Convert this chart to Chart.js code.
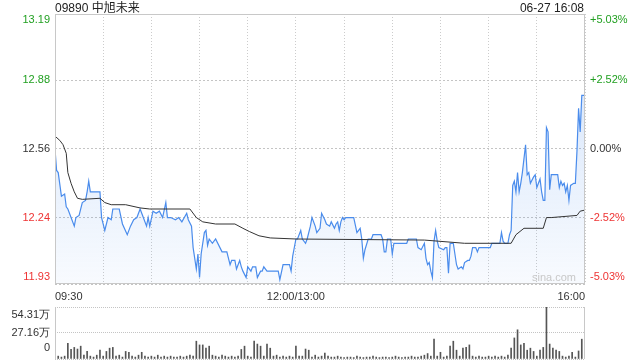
<!DOCTYPE html>
<html>
<head>
<meta charset="utf-8">
<script src="https://cdn.jsdelivr.net/npm/chart.js@4.4.1/dist/chart.umd.min.js"></script>
<style>
html, body { margin: 0; padding: 0; background: #fff; overflow: hidden; width: 640px; height: 360px; }
#wrap { position: relative; width: 640px; height: 360px; font-family: "Liberation Sans", "Noto Sans CJK SC", Arial, sans-serif; }
#title { position: absolute; left: 55px; top: 2px; font-size: 12px; line-height: 12px; color: #222; }
#stamp { position: absolute; right: 56px; top: 2px; font-size: 12px; line-height: 12px; color: #222; }
#mark { position: absolute; left: 532px; top: 272px; font-size: 11px; line-height: 11px; color: #c8c8c8; }
#main { position: absolute; left: 0; top: 0; }
#vol { position: absolute; left: 0; top: 300px; }
</style>
</head>
<body>
<div id="wrap">
  <canvas id="main" width="640" height="305"></canvas>
  <canvas id="vol" width="640" height="60"></canvas>
  <div id="title">09890 中旭未来</div>
  <div id="stamp">06-27 16:08</div>
  <div id="mark">sina.com</div>
</div>
<script>
// minutes since 09:30, lunch break removed (0..330)
const priceMinutes = [0,1,2,4,6,7,8,10,12,13,15,17,19,20,21,22,28,29,31,33,35,36,40,42,45,47,49,51,53,55,57,58,59,61,63,65,67,69,70,72,75,77,79,82,83,85,86,88,89,90,91,93,94,95,96,98,100,104,107,109,110,112,113,115,116,117,119,120,122,123,125,126,128,129,130,132,134,139,140,142,146,147,148,150,151,153,154,156,157,159,160,162,163,165,166,168,169,171,172,174,175,176,177,178,179,180,181,186,188,190,191,192,193,195,197,198,203,204,205,206,207,209,210,211,219,220,225,226,228,230,231,232,233,234,235,236,237,238,239,242,243,244,245,246,248,250,251,253,254,255,257,258,259,260,262,263,264,271,272,277,278,279,280,282,283,284,285,286,287,288,289,290,291,293,294,295,296,298,299,300,302,303,304,305,306,307,308,309,313,314,315,316,317,318,319,320,321,323,324,325,326,327,328,330];
const prices = [12.56,12.46,12.45,12.34,12.35,12.29,12.28,12.24,12.20,12.24,12.25,12.31,12.32,12.36,12.41,12.36,12.36,12.24,12.18,12.24,12.23,12.28,12.28,12.21,12.16,12.20,12.23,12.24,12.28,12.24,12.20,12.24,12.20,12.27,12.26,12.27,12.24,12.31,12.24,12.24,12.23,12.24,12.22,12.26,12.23,12.20,12.10,12.00,12.07,11.96,12.07,12.17,12.18,12.11,12.14,12.12,12.14,12.08,12.08,12.02,12.04,12.04,12.00,12.04,12.01,11.99,11.96,12.01,11.99,12.01,12.01,11.96,11.99,11.99,12.01,11.99,11.99,11.99,11.95,12.02,12.02,11.99,12.06,12.14,12.14,12.18,12.14,12.12,12.14,12.20,12.24,12.20,12.17,12.19,12.26,12.23,12.21,12.20,12.22,12.19,12.21,12.22,12.18,12.22,12.24,12.23,12.24,12.24,12.17,12.19,12.14,12.05,12.09,12.14,12.14,12.16,12.16,12.14,12.08,12.08,12.14,12.14,12.07,12.12,12.12,12.14,12.14,12.10,12.09,12.12,12.05,12.02,12.03,11.99,11.96,12.13,12.18,12.13,12.10,12.09,12.10,12.10,11.98,12.12,12.12,12.02,12.00,12.01,12.00,12.03,12.04,12.04,12.06,12.10,12.10,12.08,12.10,12.10,12.12,12.12,12.17,12.13,12.12,12.12,12.16,12.18,12.39,12.41,12.36,12.45,12.36,12.40,12.45,12.58,12.44,12.45,12.40,12.43,12.44,12.38,12.42,12.36,12.32,12.32,12.66,12.64,12.37,12.44,12.44,12.38,12.41,12.39,12.40,12.36,12.39,12.32,12.39,12.40,12.40,12.55,12.75,12.64,12.81,12.81];

const avgMinutes = [0,3,5,7,8,10,12,14,17,28,31,35,44,53,59,84,88,92,100,112,117,121,127,134,150,230,255,284,287,292,304,306,309,325,327,330];
const avgPrices = [12.62,12.60,12.58,12.54,12.45,12.40,12.36,12.33,12.325,12.33,12.31,12.30,12.30,12.285,12.28,12.28,12.24,12.22,12.21,12.21,12.19,12.175,12.155,12.145,12.14,12.135,12.12,12.12,12.16,12.19,12.19,12.24,12.24,12.25,12.27,12.275];

// volume in 万 shares, one bar per 2 minutes
const volumes = [
  13.4, 3, 2, 3, 16.4, 10, 12.1, 10.4, 13.4, 4,
  7.9, 3, 2, 4, 9.2, 3, 7.9, 11.3, 12.1, 3,
  4, 2, 7.9, 7, 3, 2, 4, 7, 3, 2,
  3, 2, 4, 2, 3, 2, 3, 2, 2, 3,
  2, 3, 4, 3, 18.6, 14.7, 14.7, 11.3, 13.4, 4,
  3, 2, 4, 3, 2, 3, 2, 3, 10, 13.4,
  3, 2, 18.6, 15.6, 13.4, 3, 15.6, 11.3, 3, 4,
  2, 3, 2, 3, 2, 13.4, 3, 3, 10.4, 9.2,
  2, 4, 2, 3, 6.2, 3, 2, 2, 3, 2,
  1.5, 2, 2, 1.5, 3, 2, 1.5, 2, 2, 3,
  2, 1.5, 2, 2, 1.5, 2, 3, 2, 1.5, 2,
  2, 3, 2, 2, 3, 4, 5.7, 3, 20.7, 3,
  7, 2, 3, 13.4, 18.6, 9.2, 3, 11.3, 12.1, 14.7,
  3, 2, 3, 2, 2, 3, 2, 3, 2, 3,
  2, 4, 11.3, 22, 30.5, 14.7, 16.4, 9.2, 11.3, 7.9,
  3, 9.2, 12.1, 54.31, 15.6, 11.3, 9.2, 7.9, 3, 2,
  3, 7, 2, 8.4, 20.7, 22
];

const priceTicks = [13.19, 12.88, 12.56, 12.24, 11.93];
const priceTickLabels = ['13.19', '12.88', '12.56', '12.24', '11.93'];
const pctTickLabels = ['+5.03%', '+2.52%', '0.00%', '-2.52%', '-5.03%'];
const volTicks = [54.31, 27.16, 0];
const volTickLabels = ['54.31万', '27.16万', '0'];
const timeTickMinutes = [0, 150, 330];
const timeTickLabels = ['09:30', '12:00/13:00', '16:00'];

const GREEN = '#22a022', RED = '#ee3333', DARK = '#333';
const tickColors = [GREEN, GREEN, DARK, RED, RED];
const FONT = '"Liberation Sans", Arial, sans-serif';

Chart.defaults.font.family = FONT;
Chart.defaults.font.size = 11;

// side labels, kept inside the plot box at the top and bottom edges
const sideLabels = {
  id: 'sideLabels',
  afterDraw(chart, args, opts) {
    const ctx = chart.ctx, a = chart.chartArea;
    ctx.save();
    ctx.font = '11px ' + FONT;
    ctx.textBaseline = 'middle';
    opts.sets.forEach(s => {
      const scale = chart.scales[s.axis];
      s.values.forEach((v, i) => {
        let y = scale.getPixelForValue(v);
        y = Math.min(Math.max(y, a.top + s.inset[0]), a.bottom - s.inset[1]);
        ctx.fillStyle = s.colors[i];
        ctx.textAlign = s.align;
        ctx.fillText(s.labels[i], s.x, y);
      });
    });
    ctx.restore();
  }
};

const frame = {
  id: 'frame',
  afterDatasetsDraw(chart, args, opts) {
    const ctx = chart.ctx, a = chart.chartArea;
    ctx.save();
    ctx.strokeStyle = '#c8c8c8';
    ctx.lineWidth = 1;
    ctx.beginPath();
    opts.sides.forEach(side => {
      if (side === 'left') { ctx.moveTo(a.left + 0.5, a.top); ctx.lineTo(a.left + 0.5, a.bottom); }
      if (side === 'right') { ctx.moveTo(a.right - 0.5, a.top); ctx.lineTo(a.right - 0.5, a.bottom); }
      if (side === 'top') { ctx.moveTo(a.left, a.top + 0.5); ctx.lineTo(a.right, a.top + 0.5); }
      if (side === 'bottom') { ctx.moveTo(a.left, a.bottom - 0.5); ctx.lineTo(a.right, a.bottom - 0.5); }
    });
    ctx.stroke();
    ctx.restore();
  }
};

const fixWidth = w => scale => { scale.width = w; };

new Chart(document.getElementById('main'), {
  type: 'line',
  data: {
    datasets: [{
      label: 'avg',
      data: avgMinutes.map((m, i) => ({ x: m, y: avgPrices[i] })),
      borderColor: '#333',
      borderWidth: 1,
      pointRadius: 0,
      fill: false
    }, {
      label: 'price',
      data: priceMinutes.map((m, i) => ({ x: m, y: prices[i] })),
      borderColor: '#4a8cec',
      borderWidth: 1.2,
      pointRadius: 0,
      fill: 'start',
      backgroundColor(c) {
        const a = c.chart.chartArea;
        if (!a) return 'rgba(74,140,236,0.1)';
        const g = c.chart.ctx.createLinearGradient(0, a.top, 0, a.bottom);
        g.addColorStop(0, 'rgba(74,140,236,0.26)');
        g.addColorStop(1, 'rgba(74,140,236,0.04)');
        return g;
      }
    }]
  },
  options: {
    responsive: false,
    animation: false,
    devicePixelRatio: 1,
    layout: { padding: { top: 14, left: 0, right: 0, bottom: 0 } },
    plugins: {
      legend: { display: false },
      tooltip: { enabled: false },
      frame: { sides: ['left', 'right', 'top', 'bottom'] },
      sideLabels: {
        sets: [
          { axis: 'y', values: priceTicks, labels: priceTickLabels, colors: tickColors, align: 'right', x: 50, inset: [6, 7] },
          { axis: 'y', values: priceTicks, labels: pctTickLabels, colors: tickColors, align: 'left', x: 590, inset: [6, 7] }
        ]
      }
    },
    scales: {
      x: {
        type: 'linear',
        min: 0,
        max: 330,
        afterFit(scale) { scale.height = 21; },
        border: { display: false, dash: [1, 2] },
        grid: { color: '#cccccc', drawTicks: false },
        ticks: {
          stepSize: 30,
          autoSkip: false,
          maxRotation: 0,
          align: 'inner',
          padding: 6,
          color: '#333',
          callback(v) {
            const i = timeTickMinutes.indexOf(v);
            return i >= 0 ? timeTickLabels[i] : '';
          }
        }
      },
      y: {
        position: 'left',
        min: 11.93,
        max: 13.19,
        afterBuildTicks(scale) { scale.ticks = priceTicks.map(v => ({ value: v })); },
        afterFit: fixWidth(55),
        border: { display: false, dash: [2, 2] },
        grid: { color: '#c4c4c4', drawTicks: false },
        ticks: { display: false }
      },
      y2: {
        position: 'right',
        min: 11.93,
        max: 13.19,
        afterFit: fixWidth(55),
        border: { display: false },
        grid: { display: false },
        ticks: { display: false }
      }
    }
  },
  plugins: [frame, sideLabels]
});

new Chart(document.getElementById('vol'), {
  type: 'bar',
  data: {
    datasets: [{
      data: volumes.map((v, i) => ({ x: i * 2, y: v })),
      backgroundColor: '#555',
      barThickness: 1
    }]
  },
  options: {
    responsive: false,
    animation: false,
    devicePixelRatio: 1,
    layout: { padding: { top: 7, left: 0, right: 55, bottom: 1 } },
    plugins: {
      legend: { display: false },
      tooltip: { enabled: false },
      frame: { sides: ['left', 'right'] },
      sideLabels: {
        sets: [
          { axis: 'y', values: volTicks, labels: volTickLabels, colors: [DARK, DARK, DARK], align: 'right', x: 50, inset: [8, 11] }
        ]
      }
    },
    scales: {
      x: {
        type: 'linear',
        min: 0,
        max: 330,
        offset: false,
        display: false
      },
      y: {
        min: 0,
        max: 54.31,
        afterBuildTicks(scale) { scale.ticks = volTicks.map(v => ({ value: v })); },
        afterFit: fixWidth(55),
        border: { display: false, dash: [1, 1] },
        grid: { color: '#c4c4c4', drawTicks: false },
        ticks: { display: false }
      }
    }
  },
  plugins: [frame, sideLabels]
});
</script>
</body>
</html>
